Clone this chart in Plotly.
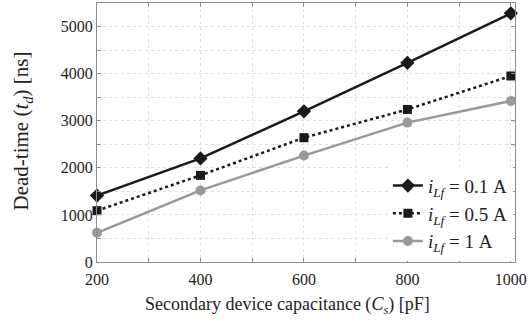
import plotly.graph_objects as go

cap_pf = [200, 400, 600, 800, 1000]
td_01A = [1410, 2200, 3200, 4230, 5280]
td_05A = [1090, 1840, 2640, 3240, 3950]
td_1A = [620, 1520, 2260, 2960, 3420]

names = ["<i>i<sub>Lf</sub></i>&nbsp;=&nbsp;0.1&nbsp;A",
         "<i>i<sub>Lf</sub></i>&nbsp;=&nbsp;0.5&nbsp;A",
         "<i>i<sub>Lf</sub></i>&nbsp;=&nbsp;1&nbsp;A"]
x_title = "Secondary device capacitance (<i>C<sub>s</sub></i>) [pF]"
y_title = "Dead-time&nbsp;(<i>t<sub>d</sub></i>)&nbsp;[ns]"

FONT = "Liberation Serif, DejaVu Serif, serif"

fig = go.Figure()
fig.add_trace(go.Scatter(x=cap_pf, y=td_01A, name=names[0], mode="lines+markers",
                         line=dict(color="#1a1a1a", width=2.5),
                         marker=dict(symbol="diamond", size=11, color="#1a1a1a"), cliponaxis=False))
fig.add_trace(go.Scatter(x=cap_pf, y=td_05A, name=names[1], mode="lines+markers",
                         line=dict(color="#1a1a1a", width=2.5, dash="3px,3px"),
                         marker=dict(symbol="square", size=9, color="#1a1a1a"), cliponaxis=False))
fig.add_trace(go.Scatter(x=cap_pf, y=td_1A, name=names[2], mode="lines+markers",
                         line=dict(color="#999999", width=2.5),
                         marker=dict(symbol="circle", size=10, color="#999999"), cliponaxis=False))

axis_common = dict(showline=True, linecolor="#8c8c8c", linewidth=1.2, mirror="ticks",
                   ticks="inside", tickcolor="#8c8c8c", ticklen=4,
                   showgrid=True, gridcolor="#e0e0e0", griddash="dot", gridwidth=1,
                   zeroline=False, ticklabeloverflow="allow",
                   tickfont=dict(family=FONT, size=16, color="#222"))

fig.update_xaxes(range=[200, 1008], tickvals=[200, 400, 600, 800, 1000], ticklabelstandoff=3,
                 minor=dict(tickvals=[300, 500, 700, 900], ticks="inside", ticklen=4, tickcolor="#8c8c8c",
                            showgrid=True, gridcolor="#e0e0e0", griddash="dot"),
                 **axis_common)
fig.update_yaxes(range=[0, 5500], tickvals=[0, 1000, 2000, 3000, 4000, 5000],
                 minor=dict(tickvals=[500, 1500, 2500, 3500, 4500], ticks="inside", ticklen=4, tickcolor="#8c8c8c",
                            showgrid=True, gridcolor="#e0e0e0", griddash="dot"),
                 **axis_common)

fig.add_annotation(text=x_title, xref="paper", yref="paper", x=(293 - 97) / (526 - 97), y=-(306 - 262) / 260,
                   xanchor="center", yanchor="middle", showarrow=False,
                   font=dict(family=FONT, size=18, color="#222"))
fig.add_annotation(text=y_title, xref="paper", yref="paper", x=-(97 - 20) / (526 - 97), y=(262 - 130) / 260,
                   xanchor="center", yanchor="middle", textangle=-90, showarrow=False,
                   font=dict(family=FONT, size=21, color="#222"))

fig.update_layout(
    width=529, height=325,
    margin=dict(l=97, r=3, t=2, b=63),
    plot_bgcolor="white", paper_bgcolor="white",
    font=dict(family=FONT, size=16, color="#222"),
    legend=dict(x=0.995, y=0.005, xanchor="right", yanchor="bottom",
                bgcolor="white", borderwidth=0, font=dict(family=FONT, size=19, color="#222"),
                itemwidth=30, tracegroupgap=0),
    showlegend=True,
)

fig.write_html("out.html")
